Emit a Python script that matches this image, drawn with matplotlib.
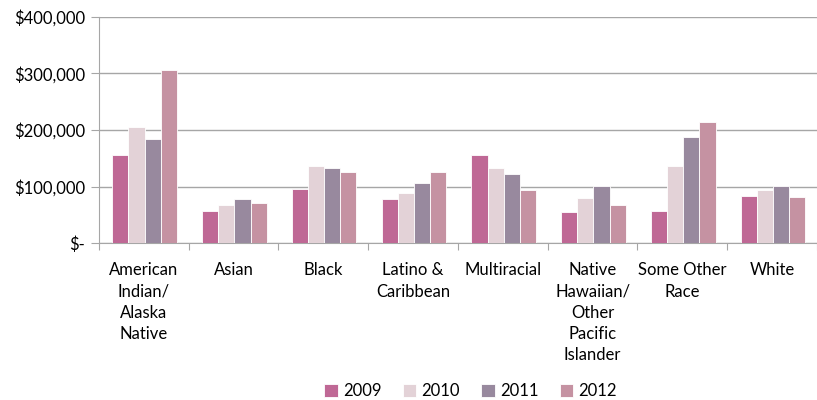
import matplotlib.pyplot as plt
import numpy as np
from matplotlib.ticker import FuncFormatter, FixedLocator

# Données
categories = ['American\nIndian/\nAlaska\nNative', 'Asian', 'Black', 'Latino &\nCaribbean',
              'Multiracial', 'Native\nHawaiian/\nOther\nPacific\nIslander', 'Some Other\nRace', 'White']
years = ['2009', '2010', '2011', '2012']
v2009 = [155000, 56000, 95000, 78000, 155000, 55000, 56000, 84000]
v2010 = [205000, 67000, 137000, 89000, 133000, 80000, 136000, 93000]
v2011 = [184000, 77000, 133000, 106000, 122000, 101000, 187000, 101000]
v2012 = [306000, 70000, 126000, 126000, 93000, 68000, 215000, 81000]
colors = ['#BF6895', '#E3D2D7', '#98899E', '#C592A2']

plt.rcParams['font.family'] = ['Lato', 'DejaVu Sans']

fig = plt.figure(figsize=(8.17, 4.0), dpi=100)
ax = fig.add_axes([0.121, 0.3925, 0.879, 0.565])

x = np.arange(len(categories))
w = 0.18
for i, (vals, c, lab) in enumerate(zip([v2009, v2010, v2011, v2012], colors, years)):
    ax.bar(x + 0.01 + (i - 1.5) * w, vals, width=w, color=c, edgecolor='white', linewidth=0.6,
           label=lab, zorder=3)

ax.set_xlim(-0.5, len(categories) - 0.5)
ax.set_ylim(0, 400000)
ax.set_yticks([0, 100000, 200000, 300000, 400000])
ax.yaxis.set_major_formatter(FuncFormatter(lambda v, p: '$-' if v == 0 else '${:,.0f}'.format(v)))
ax.yaxis.grid(True, color='#A6A6A6', linewidth=1, zorder=0)

ax.xaxis.set_major_locator(FixedLocator(np.arange(-0.5, len(categories), 1)))
ax.set_xticklabels([])
ax.set_xticks(x, minor=True)
ax.set_xticklabels(categories, minor=True, fontsize=12, va='top', linespacing=1.4)
ax.tick_params(axis='x', which='major', length=5, color='#A6A6A6', direction='out')
ax.tick_params(axis='x', which='minor', length=0, pad=14)
ax.tick_params(axis='y', length=6, color='#A6A6A6', labelsize=12, pad=4)

for s in ['top', 'right']:
    ax.spines[s].set_visible(False)
ax.spines['left'].set_color('#A6A6A6')
ax.spines['bottom'].set_color('#A6A6A6')

fig.legend(loc='lower center', bbox_to_anchor=(0.576, -0.035), ncol=4, frameon=False,
           fontsize=12, handlelength=0.8, handleheight=0.8, columnspacing=1.3,
           handletextpad=0.3)

plt.savefig('out.png', dpi=100)
